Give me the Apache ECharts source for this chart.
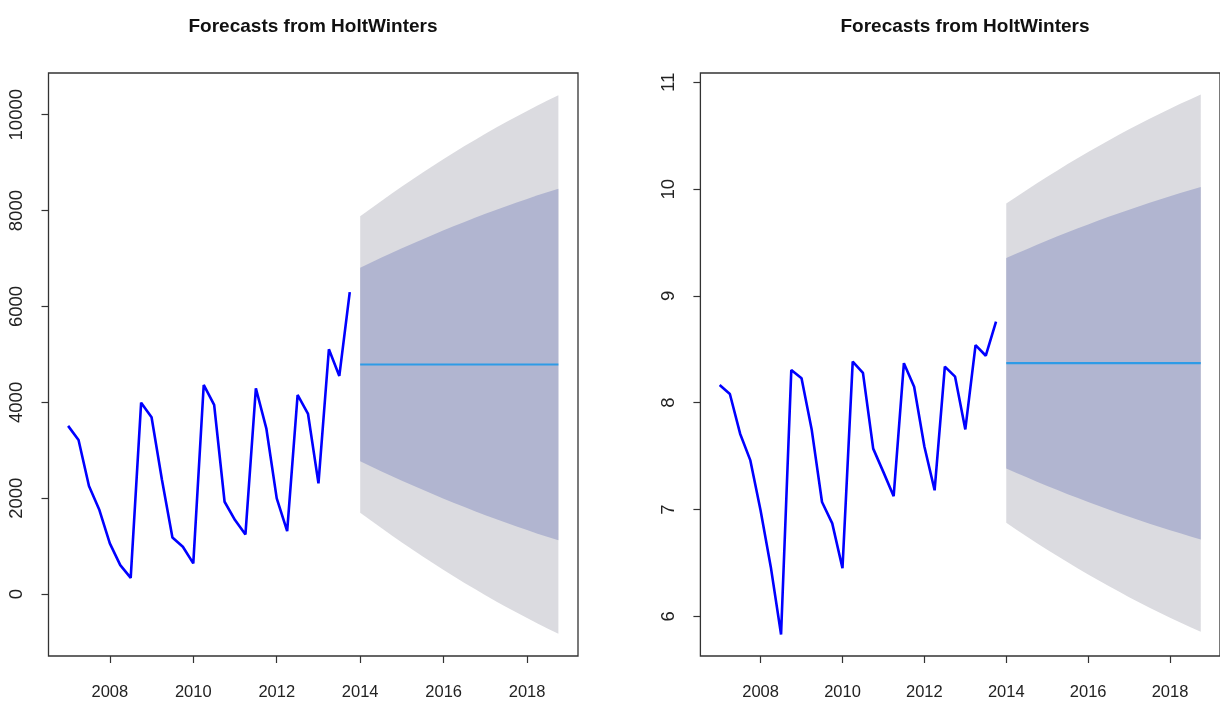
<!DOCTYPE html>
<html>
<head>
<meta charset="utf-8">
<script src="https://cdn.jsdelivr.net/npm/echarts@6/dist/echarts.min.js"></script>
<style>
html,body{margin:0;padding:0;background:#fff;}
#chart{width:1220px;height:702px;}
</style>
</head>
<body>
<div id="chart"></div>
<script>
// ---- Data ----
const titleText = 'Forecasts from HoltWinters';
const startYear = 2007;      // first observation (quarterly)
const fcStartYear = 2014;    // first forecast period
const freq = 4;

const xTickLabels = [2008, 2010, 2012, 2014, 2016, 2018];
const leftYTicks = [0, 2000, 4000, 6000, 8000, 10000];
const rightYTicks = [6, 7, 8, 9, 10, 11];

// Left panel: observed series
const leftObserved = [3510, 3215, 2255, 1754, 1058, 605, 340, 3994, 3689, 2380, 1183, 988, 641, 4363,
  3946, 1927, 1545, 1246, 4294, 3459, 1998, 1315, 4154, 3758, 2311, 5108, 4551, 6300];
// Left panel: forecast and intervals
const leftForecast = [4790, 4790, 4790, 4790, 4790, 4790, 4790, 4790, 4790, 4790,
  4790, 4790, 4790, 4790, 4790, 4790, 4790, 4790, 4790, 4790];
const leftHi95 = [7880, 8040, 8197, 8351, 8502, 8650, 8795, 8937, 9076, 9212,
  9345, 9475, 9602, 9726, 9847, 9965, 10080, 10192, 10301, 10407];
const leftHi80 = [6808, 6912, 7015, 7115, 7214, 7311, 7405, 7498, 7589, 7678,
  7764, 7849, 7932, 8013, 8092, 8169, 8244, 8318, 8389, 8458];
const leftLo80 = [2772, 2668, 2565, 2465, 2366, 2269, 2175, 2082, 1991, 1902,
  1816, 1731, 1648, 1567, 1488, 1411, 1336, 1262, 1191, 1122];
const leftLo95 = [1700, 1540, 1383, 1229, 1078, 930, 785, 643, 504, 368,
  235, 105, -22, -146, -267, -385, -500, -612, -721, -827];

// Right panel: observed series
const rightObserved = [8.166, 8.082, 7.71, 7.46, 6.99, 6.46, 5.83, 8.307, 8.229, 7.744, 7.07, 6.87, 6.45, 8.385,
  8.28, 7.57, 7.35, 7.125, 8.37, 8.15, 7.59, 7.18, 8.338, 8.244, 7.75, 8.54, 8.44, 8.76];
const rightForecast = [8.37, 8.37, 8.37, 8.37, 8.37, 8.37, 8.37, 8.37, 8.37, 8.37,
  8.37, 8.37, 8.37, 8.37, 8.37, 8.37, 8.37, 8.37, 8.37, 8.37];
const rightHi95 = [9.865, 9.930, 9.993, 10.055, 10.116, 10.176, 10.235, 10.292, 10.348, 10.403,
  10.457, 10.509, 10.561, 10.611, 10.660, 10.707, 10.754, 10.799, 10.843, 10.886];
const rightHi80 = [9.355, 9.397, 9.438, 9.479, 9.519, 9.558, 9.596, 9.633, 9.670, 9.706,
  9.741, 9.775, 9.808, 9.841, 9.873, 9.904, 9.934, 9.963, 9.992, 10.020];
const rightLo80 = [7.385, 7.343, 7.302, 7.261, 7.221, 7.182, 7.144, 7.107, 7.070, 7.034,
  6.999, 6.965, 6.932, 6.899, 6.867, 6.836, 6.806, 6.777, 6.748, 6.720];
const rightLo95 = [6.875, 6.810, 6.747, 6.685, 6.624, 6.564, 6.505, 6.448, 6.392, 6.337,
  6.283, 6.231, 6.179, 6.129, 6.080, 6.033, 5.986, 5.941, 5.897, 5.854];

// ---- Build ----
const FONT = '"Liberation Sans", Arial, Helvetica, sans-serif';
const OBS_COLOR = '#0000FF';
const FC_COLOR = '#2E9BE6';
const OUTER_COLOR = '#DBDBE0';
const INNER_COLOR = '#B1B5D0';

function pairs(start, arr) { return arr.map((v, i) => [start + i / freq, v]); }

function bandSeries(idx, hi95, hi80, lo80, lo95) {
  const rows = hi95.map((v, i) => [fcStartYear + i / freq, lo95[i], lo80[i], hi80[i], v]);
  return {
    type: 'custom', xAxisIndex: idx, yAxisIndex: idx, silent: true, z: 1,
    data: rows,
    encode: { x: 0, y: [1, 2, 3, 4] },
    renderItem: function (params, api) {
      if (params.dataIndex !== 0) return null;
      const upOuter = [], dnOuter = [], upInner = [], dnInner = [];
      for (let i = 0; i < rows.length; i++) {
        const r = rows[i];
        upOuter.push(api.coord([r[0], r[4]]));
        dnOuter.push(api.coord([r[0], r[1]]));
        upInner.push(api.coord([r[0], r[3]]));
        dnInner.push(api.coord([r[0], r[2]]));
      }
      return {
        type: 'group',
        children: [
          { type: 'polygon', shape: { points: upOuter.concat(dnOuter.slice().reverse()) },
            style: { fill: OUTER_COLOR, stroke: null } },
          { type: 'polygon', shape: { points: upInner.concat(dnInner.slice().reverse()) },
            style: { fill: INNER_COLOR, stroke: null } }
        ]
      };
    }
  };
}

function panelSeries(idx, obs, fc, hi95, hi80, lo80, lo95) {
  return [
    bandSeries(idx, hi95, hi80, lo80, lo95),
    { type: 'line', xAxisIndex: idx, yAxisIndex: idx, data: pairs(fcStartYear, fc), symbol: 'none',
      lineStyle: { color: FC_COLOR, width: 2.2 }, silent: true, z: 3 },
    { type: 'line', xAxisIndex: idx, yAxisIndex: idx, data: pairs(startYear, obs), symbol: 'none',
      lineStyle: { color: OBS_COLOR, width: 2.6 }, silent: true, z: 4 }
  ];
}

function xAxisDef(idx) {
  return {
    type: 'value', gridIndex: idx, min: 2006.53, max: 2019.22,
    splitLine: { show: false },
    axisLine: { show: false, onZero: false },
    axisTick: { show: true, inside: false, length: 7, customValues: xTickLabels, lineStyle: { color: '#333', width: 1.2 } },
    axisLabel: { customValues: xTickLabels, margin: 28, fontSize: 16.5, color: '#222', fontFamily: FONT,
      formatter: v => String(v) }
  };
}
function yAxisDef(idx, min, max, ticks) {
  return {
    type: 'value', gridIndex: idx, min: min, max: max,
    splitLine: { show: false },
    axisLine: { show: false, onZero: false },
    axisTick: { show: true, inside: false, length: 7, customValues: ticks, lineStyle: { color: '#333', width: 1.2 } },
    axisLabel: { customValues: ticks, rotate: 90, margin: 22, fontSize: 18.5, color: '#222', fontFamily: FONT,
      formatter: v => String(v) }
  };
}

const chart = echarts.init(document.getElementById('chart'), null, { renderer: 'canvas' });
chart.setOption({
  animation: false,
  backgroundColor: '#fff',
  title: [
    { text: titleText, left: 308, top: 12, textAlign: 'center',
      textStyle: { fontFamily: FONT, fontWeight: 'bold', fontSize: 19, color: '#111' } },
    { text: titleText, left: 960, top: 12, textAlign: 'center',
      textStyle: { fontFamily: FONT, fontWeight: 'bold', fontSize: 19, color: '#111' } }
  ],
  grid: [
    { left: 48.5, top: 73, width: 529.5, height: 583, show: true, borderColor: '#333', borderWidth: 1.3, backgroundColor: 'transparent' },
    { left: 700.4, top: 73, width: 529.5, height: 583, show: true, borderColor: '#333', borderWidth: 1.3, backgroundColor: 'transparent' }
  ],
  xAxis: [xAxisDef(0), xAxisDef(1)],
  yAxis: [yAxisDef(0, -1290, 10870, leftYTicks), yAxisDef(1, 5.628, 11.088, rightYTicks)],
  series: [].concat(
    panelSeries(0, leftObserved, leftForecast, leftHi95, leftHi80, leftLo80, leftLo95),
    panelSeries(1, rightObserved, rightForecast, rightHi95, rightHi80, rightLo80, rightLo95)
  )
});
</script>
</body>
</html>
